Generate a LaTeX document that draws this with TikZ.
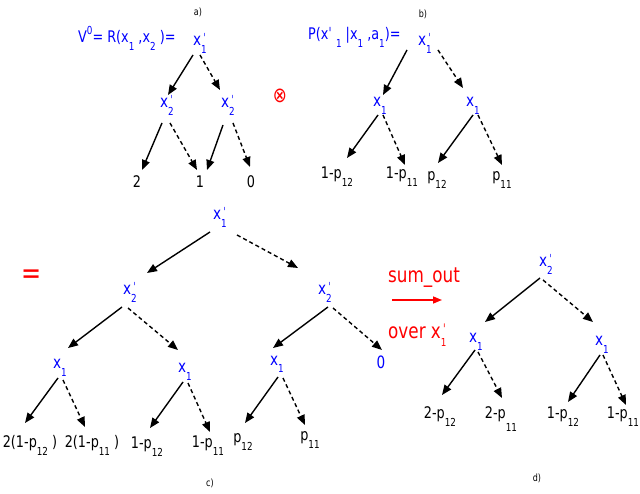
\documentclass[tikz,border=0pt]{standalone}
\usepackage{fontspec}
\setmainfont[FakeStretch=0.8]{DejaVu Sans}
\usetikzlibrary{arrows.meta}
\newcommand\lo[1]{\raisebox{-8pt}{\fontsize{11}{11}\selectfont #1}}
\newcommand\llo[1]{\raisebox{-13pt}{\fontsize{11}{11}\selectfont #1}}
\newcommand\pri{\makebox[0pt][l]{\raisebox{3pt}{\fontsize{12}{12}\selectfont\kern2pt ˈ}}}
\newcommand\xp[1]{x\pri\lo{#1}}
\begin{document}
\begin{tikzpicture}[x=1pt,y=-1pt,
  bl/.style={text=blue, font=\fontsize{17}{17}\selectfont, inner sep=0, anchor=base},
  lf/.style={text=black, font=\fontsize{16}{16}\selectfont, inner sep=0, anchor=base},
  fm/.style={text=blue, font=\fontsize{16}{16}\selectfont, inner sep=0, anchor=base west},
  rd/.style={text=red, font=\fontsize{21}{21}\selectfont, inner sep=0, anchor=base west},
  lab/.style={font=\fontsize{10}{10}\selectfont, inner sep=0},
  sol/.style={line width=1.4pt, -{Triangle[length=10pt,width=8pt]}},
  dsh/.style={sol, dash pattern=on 4pt off 3pt}]
\useasboundingbox (0,0) rectangle (640,494);
% labels
\node[lab] (la) at (198,12) {a)};
\node[lab] (lb) at (423,14) {b)};
\node[lab] (lc) at (210,483) {c)};
\node[lab] (ld) at (537,478) {d)};
% panel a
\node[fm] (fa) at (78,43) {V\raisebox{8pt}{\fontsize{11}{11}\selectfont 0}= R(x\lo{1}\ ,x\lo{2}\ )=};
\node[bl] (ra) at (200,46) {\xp{1}};
\node[bl] (al) at (167,108) {\xp{2}};
\node[bl] (ar) at (228,108) {\xp{2}};
\node[lf] (a2) at (137,188) {2};
\node[lf] (a1) at (200,188) {1};
\node[lf] (a0) at (251,188) {0};
\draw[sol] ([shift={(-7,9)}]ra.base) -- ([shift={(1,-13)}]al.base);
\draw[dsh] ([shift={(0,9)}]ra.base) -- ([shift={(-8,-18)}]ar.base);
\draw[sol] ([shift={(-5,15)}]al.base) -- ([shift={(5,-18)}]a2.base);
\draw[dsh] ([shift={(3,15)}]al.base) -- ([shift={(-3,-18)}]a1.base);
\draw[sol] ([shift={(-5,17)}]ar.base) -- ([shift={(7,-18)}]a1.base);
\draw[dsh] ([shift={(5,15)}]ar.base) -- ([shift={(-1,-21)}]a0.base);
% otimes
\node[text=red, font=\fontsize{21}{21}\selectfont, inner sep=0] (ot) at (280,96) {⊗};
% panel b
\node[fm] (fb) at (308,40) {P(xˈ\ \lo{1} |x\lo{1} ,a\lo{1})=};
\node[bl] (rb) at (425,46) {\xp{1}};
\node[bl] (bl1) at (380,107) {x\lo{1}};
\node[bl] (br1) at (473,107) {x\lo{1}};
\node[lf] (b1) at (337,179) {1-p\lo{12}};
\node[lf] (b2) at (402,179) {1-p\lo{11}};
\node[lf] (b3) at (437,181) {p\lo{12}};
\node[lf] (b4) at (502,181) {p\lo{11}};
\draw[sol] ([shift={(-18,4)}]rb.base) -- ([shift={(3,-12)}]bl1.base);
\draw[dsh] ([shift={(13,4)}]rb.base) -- ([shift={(-10,-19)}]br1.base);
\draw[sol] ([shift={(-2,8)}]bl1.base) -- ([shift={(10,-21)}]b1.base);
\draw[dsh] ([shift={(3,8)}]bl1.base) -- ([shift={(3,-14)}]b2.base);
\draw[sol] ([shift={(0,8)}]br1.base) -- ([shift={(1,-18)}]b3.base);
\draw[dsh] ([shift={(5,8)}]br1.base) -- ([shift={(0,-16)}]b4.base);
% equals
\node[text=red, font=\fontsize{30}{30}\selectfont, inner sep=0] (eq) at (32,277) {=};
% panel c
\node[bl] (rc) at (220,220) {\xp{1}};
\node[bl] (cl) at (130,295) {\xp{2}};
\node[bl] (cr) at (325,295) {\xp{2}};
\node[bl] (c1) at (60,368) {x\lo{1}};
\node[bl] (c2) at (185,373) {x\lo{1}};
\node[bl] (c3) at (277,365) {x\lo{1}};
\node[bl] (c4) at (381,368) {0};
\node[lf] (L1) at (30,447) {2(1-p\lo{12} )};
\node[lf] (L2) at (92,447) {2(1-p\lo{11} )};
\node[lf] (L3) at (147,448) {1-p\lo{12}};
\node[lf] (L4) at (208,447) {1-p\lo{11}};
\node[lf] (L5) at (243,442) {p\lo{12}};
\node[lf] (L6) at (310,440) {p\lo{11}};
\draw[sol] ([shift={(-10,12)}]rc.base) -- ([shift={(17,-22)}]cl.base);
\draw[dsh] ([shift={(17,15)}]rc.base) -- ([shift={(-27,-27)}]cr.base);
\draw[sol] ([shift={(-8,12)}]cl.base) -- ([shift={(8,-20)}]c1.base);
\draw[dsh] ([shift={(-2,13)}]cl.base) -- ([shift={(-7,-23)}]c2.base);
\draw[sol] ([shift={(3,12)}]cr.base) -- ([shift={(-4,-17)}]c3.base);
\draw[dsh] ([shift={(8,13)}]cr.base) -- ([shift={(1,-18)}]c4.base);
\draw[sol] ([shift={(-2,10)}]c1.base) -- ([shift={(-5,-24)}]L1.base);
\draw[dsh] ([shift={(3,12)}]c1.base) -- ([shift={(-7,-20)}]L2.base);
\draw[sol] ([shift={(-2,9)}]c2.base) -- ([shift={(3,-20)}]L3.base);
\draw[dsh] ([shift={(3,10)}]c2.base) -- ([shift={(2,-15)}]L4.base);
\draw[sol] ([shift={(1,12)}]c3.base) -- ([shift={(2,-19)}]L5.base);
\draw[dsh] ([shift={(6,13)}]c3.base) -- ([shift={(-5,-15)}]L6.base);
% sum out
\node[rd] (so) at (388,283) {sum\_out};
\coordinate (s1) at (392,300);
\coordinate (s2) at (442,300);
\draw[red, line width=1.5pt, -{Triangle[length=9pt,width=7pt]}] (s1) -- (s2);
\node[rd] (ov) at (388,338) {over x\makebox[0pt][l]{\raisebox{4pt}{\fontsize{14}{14}\selectfont\kern2pt ˈ}}\lo{1}};
% panel d
\node[bl] (dr) at (546,267) {\xp{2}};
\node[bl] (d1) at (476,342) {x\lo{1}};
\node[bl] (d2) at (602,345) {x\lo{1}};
\node[lf] (D1) at (440,418) {2-p\lo{12}};
\node[lf] (D2) at (501,418) {2-p\llo{11}};
\node[lf] (D3) at (563,418) {1-p\lo{12}};
\node[lf] (D4) at (623,418) {1-p\lo{11}};
\draw[sol] ([shift={(-6,11)}]dr.base) -- ([shift={(9,-20)}]d1.base);
\draw[dsh] ([shift={(-3,13)}]dr.base) -- ([shift={(-9,-23)}]d2.base);
\draw[sol] ([shift={(-1,8)}]d1.base) -- ([shift={(2,-23)}]D1.base);
\draw[dsh] ([shift={(2,10)}]d1.base) -- ([shift={(1,-20)}]D2.base);
\draw[sol] ([shift={(-2,10)}]d2.base) -- ([shift={(5,-16)}]D3.base);
\draw[dsh] ([shift={(1,10)}]d2.base) -- ([shift={(3,-13)}]D4.base);
\end{tikzpicture}
\end{document}
